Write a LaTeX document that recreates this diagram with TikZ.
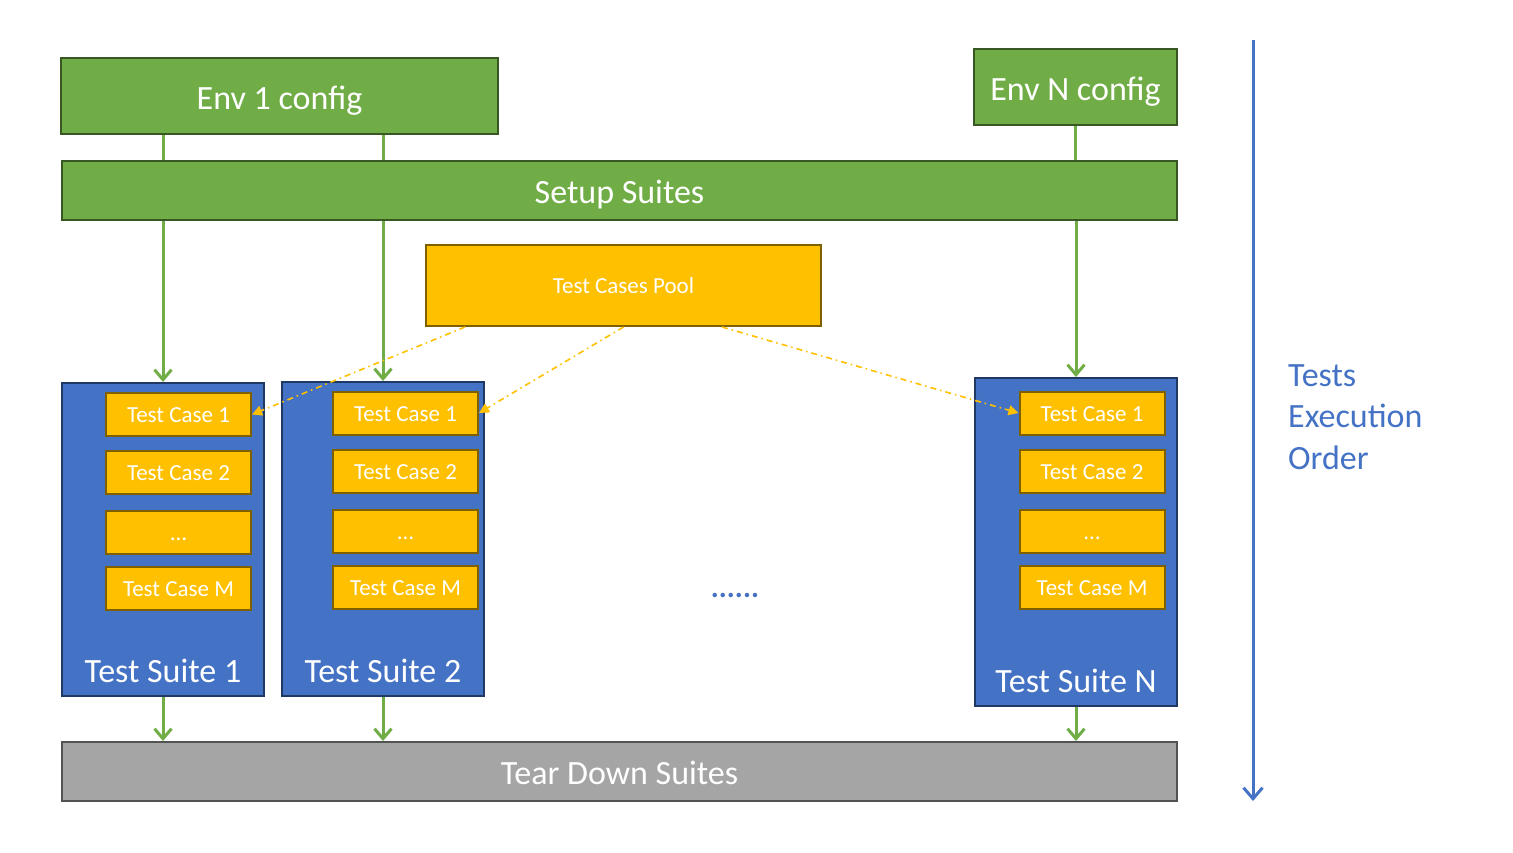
\documentclass[tikz,border=0pt]{standalone}
\usepackage{fontspec}
\setmainfont{Carlito}
\usetikzlibrary{arrows.meta,positioning}
\definecolor{cfggreen}{HTML}{70AD47}
\definecolor{cfgdark}{HTML}{385723}
\definecolor{poolorange}{HTML}{FFC000}
\definecolor{pooldark}{HTML}{7F6000}
\definecolor{suiteblue}{HTML}{4472C4}
\definecolor{suitedark}{HTML}{1F3864}
\definecolor{teargrey}{HTML}{A5A5A5}
\definecolor{teardark}{HTML}{525252}

\begin{document}
\begin{tikzpicture}[x=1pt,y=-1pt,
		big/.style={font=\fontsize{34}{41.5}\selectfont},
		small/.style={font=\fontsize{23}{27}\selectfont},
		bigbox/.style={big,text height=30pt,text depth=4pt},
		smallbox/.style={small,text height=20pt,text depth=4pt},
		box/.style={draw,line width=2pt,text=white,inner sep=0pt},
		cfgbox/.style={box,bigbox,fill=cfggreen,draw=cfgdark},
		suitebox/.style={box,fill=suiteblue,draw=suitedark,minimum width=202pt},
		casebox/.style={box,smallbox,fill=poolorange,draw=pooldark,minimum width=145pt,minimum height=43pt},
		flow/.style={draw=cfggreen,line width=3pt},
		pick/.style={draw=poolorange,line width=1.6pt,dash pattern=on 6pt off 4pt on 1.5pt off 4pt,-{Triangle[length=10pt,width=10pt]}}]
		\useasboundingbox (0,0) rectangle (1513,852);

		\node[cfgbox,minimum width=437pt,minimum height=76pt] (env1) at (279.5,96) {Env 1 config};
		\node[cfgbox,minimum width=203pt,minimum height=76pt] (envN) at (1075.5,87) {Env N config};
		\node[cfgbox,minimum width=1115pt,minimum height=59pt] (setup) at (619.5,190.5) {Setup Suites};
		\node[box,smallbox,fill=poolorange,draw=pooldark,minimum width=395pt,minimum height=81pt] (pool) at (623.5,285.5) {Test Cases Pool};
		\node[box,bigbox,fill=teargrey,draw=teardark,minimum width=1115pt,minimum height=59pt] (tear) at (619.5,771.5) {Tear Down Suites};

		\node[suitebox,minimum height=313pt] (s1) at (163,539.5) {};
		\node[suitebox,minimum height=314pt] (s2) at (383,539) {};
		\node[suitebox,minimum height=328pt] (sN) at (1076,542) {};

		\foreach \s in {1,2,N}
		\node[big,text=white,anchor=base] (lbl\s) at ([yshift=15pt]s\s.south) {Test Suite \s};

		\foreach \s/\x/\y in {1/178.5/414.5,2/405.5/413,N/1092/413}{
			\node[casebox] (tc\s-1) at (\x,\y) {Test Case 1};
			\node[casebox] (tc\s-2) at (\x,\y+58) {Test Case 2};
			\node[casebox] (tc\s-3) at (\x,\y+118) {…};
			\node[casebox] (tc\s-M) at (\x,\y+174) {Test Case M};
		}

		\node[font=\fontsize{30}{32}\selectfont,text=suiteblue] (more) at (735,595) {\textbf{......}};

		\foreach \s in {1,2}{
			\draw[flow] (s\s.north |- env1.south) -- (s\s.north |- setup.north);
			\draw[flow,-{Straight Barb[length=10pt,width=17pt]}] (s\s.north |- setup.south) -- (s\s.north);
			\draw[flow,-{Straight Barb[length=10pt,width=17pt]}] (s\s.south) -- (s\s.south |- tear.north);
		}
		\draw[flow] (envN.south) -- (envN.south |- setup.north);
		\draw[flow,-{Straight Barb[length=10pt,width=17pt]}] (sN.north |- setup.south) -- (sN.north);
		\draw[flow,-{Straight Barb[length=10pt,width=17pt]}] (sN.south) -- (sN.south |- tear.north);

		\draw[pick] ([xshift=40pt]pool.south west) -- (tc1-1.east);
		\draw[pick] (pool.south) -- (tc2-1.east);
		\draw[pick] ([xshift=-100pt]pool.south east) -- (tcN-1.west);

		\coordinate (first) at (1253,40);
		\coordinate (last) at (1253,801);
		\draw[draw=suiteblue,line width=3pt,-{Straight Barb[length=11pt,width=19pt]}] (first) -- (last);
		\node[big,text=suiteblue,align=left,anchor=north west,inner sep=0pt] (order) at (1288,364) {Tests\\Execution\\Order};
\end{tikzpicture}
\end{document}
